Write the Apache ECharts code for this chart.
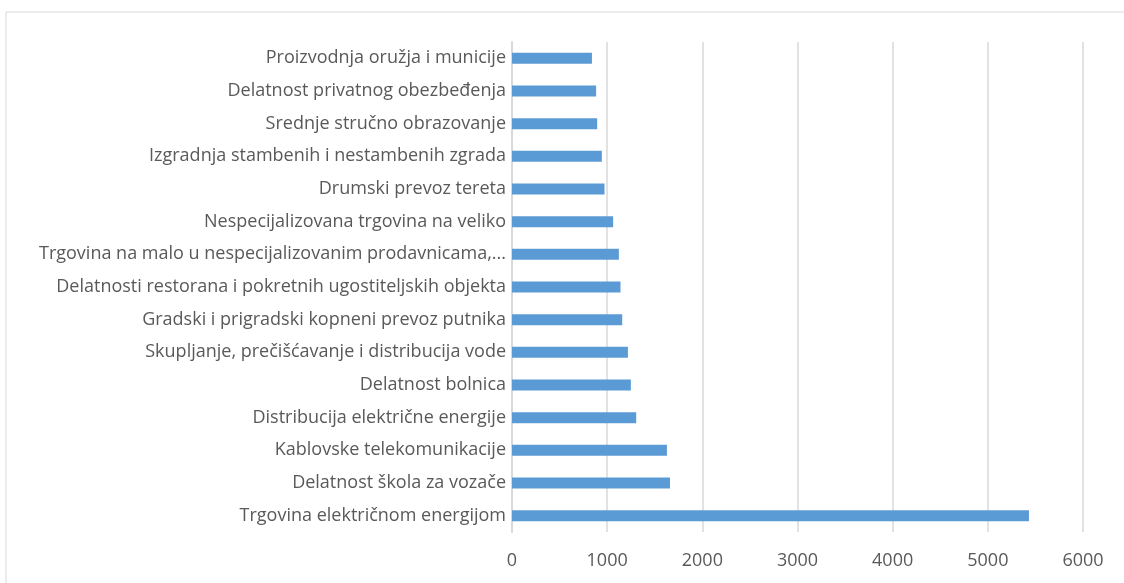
<!DOCTYPE html>
<html><head><meta charset="utf-8">
<script src="https://cdn.jsdelivr.net/npm/echarts@6/dist/echarts.min.js"></script>
<style>html,body{margin:0;padding:0;background:#fff}#c{width:1124px;height:583px}</style>
</head><body><div id="c"></div>
<script>
const categories = [
  "Proizvodnja oružja i municije",
  "Delatnost privatnog obezbeđenja",
  "Srednje stručno obrazovanje",
  "Izgradnja stambenih i nestambenih zgrada",
  "Drumski prevoz tereta",
  "Nespecijalizovana trgovina na veliko",
  "Trgovina na malo u nespecijalizovanim prodavnicama,...",
  "Delatnosti restorana i pokretnih ugostiteljskih objekta",
  "Gradski i prigradski kopneni prevoz putnika",
  "Skupljanje, prečišćavanje i distribucija vode",
  "Delatnost bolnica",
  "Distribucija električne energije",
  "Kablovske telekomunikacije",
  "Delatnost škola za vozače",
  "Trgovina električnom energijom"
];
const values = [840, 884, 895, 944, 972, 1063, 1123, 1140, 1158, 1218, 1249, 1305, 1628, 1660, 5432];
const xTicks = { min: 0, max: 6000, interval: 1000 };

const chart = echarts.init(document.getElementById('c'), null, {renderer: 'canvas'});
const font = '"Open Sans", sans-serif';
chart.setOption({
  animation: false,
  graphic: [{
    type: 'rect', shape: {x: 6, y: 12, width: 1200, height: 700},
    style: {fill: 'none', stroke: '#d9d9d9', lineWidth: 1}, silent: true, z: -1
  }],
  grid: {left: 512, right: 41, top: 42, bottom: 51, containLabel: false},
  xAxis: {
    type: 'value', min: xTicks.min, max: xTicks.max, interval: xTicks.interval,
    axisLine: {show: false}, axisTick: {show: false},
    splitLine: {show: true, lineStyle: {color: '#d9d9d9', width: 1.5}},
    axisLabel: {color: '#595959', fontSize: 18, fontFamily: font, margin: 20,
      formatter: function (v) { return String(v); }}
  },
  yAxis: {
    type: 'category', data: categories, inverse: true,
    axisLine: {show: true, lineStyle: {color: '#d9d9d9', width: 2}},
    axisTick: {show: false},
    axisLabel: {color: '#595959', fontSize: 18, fontFamily: font, margin: 6}
  },
  series: [{
    type: 'bar', data: values, barWidth: 11,
    itemStyle: {color: '#5B9BD5'}
  }]
});
</script></body></html>
